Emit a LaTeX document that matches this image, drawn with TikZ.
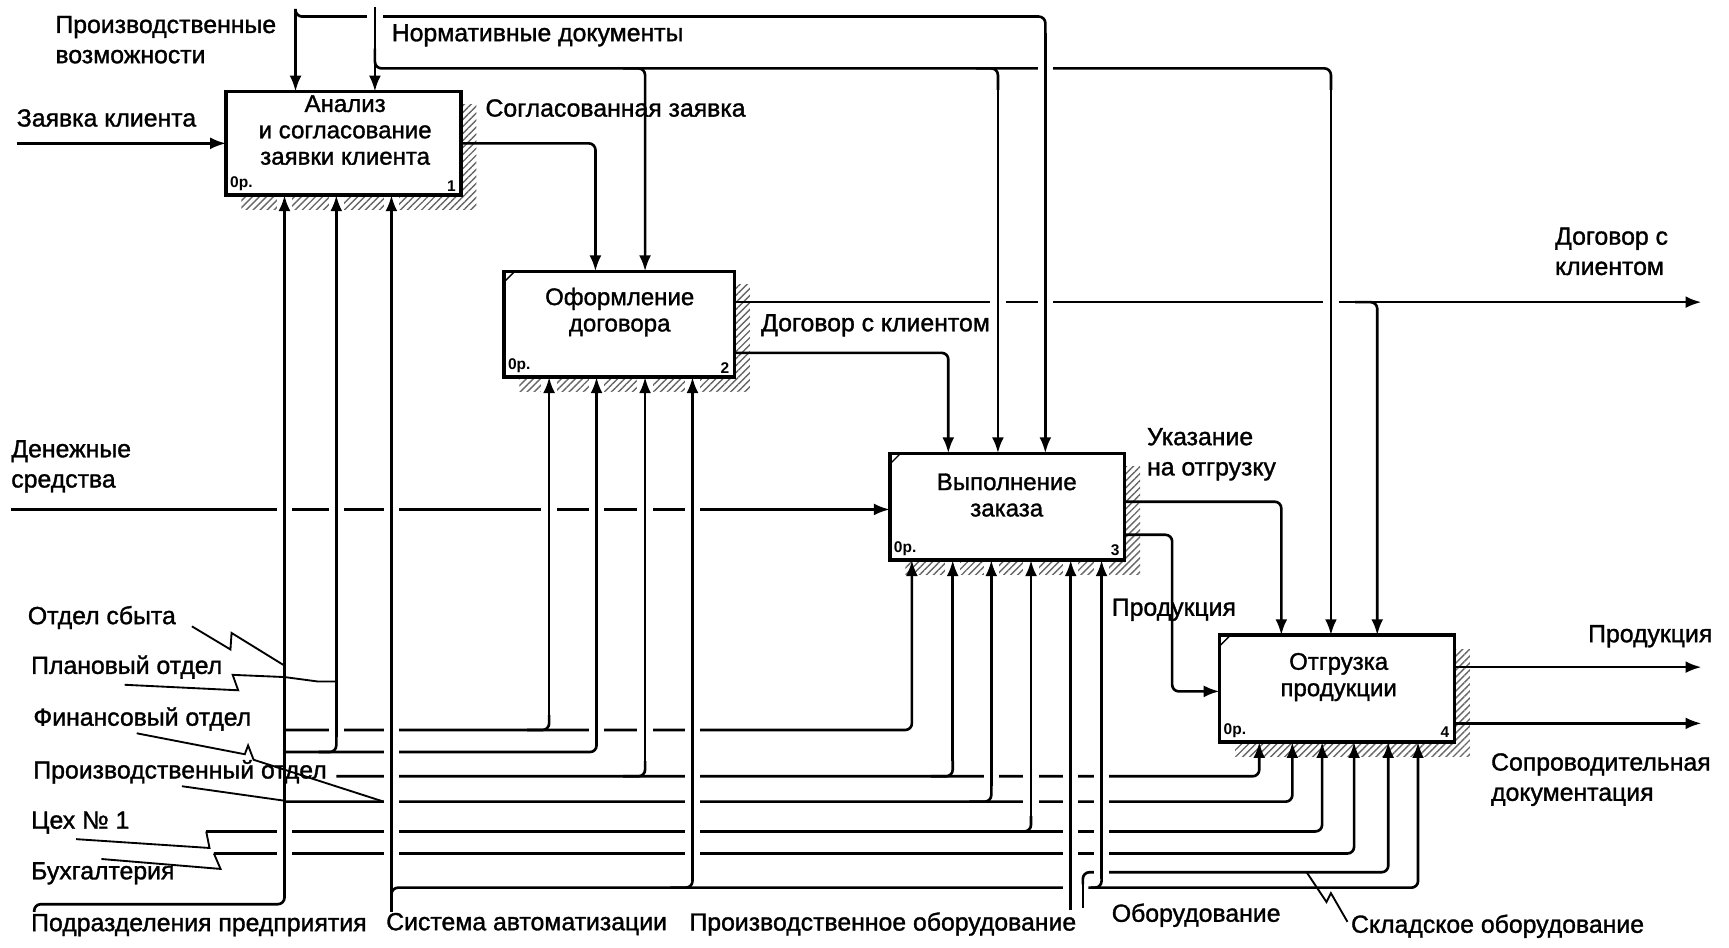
\documentclass[tikz,border=0pt]{standalone}
\usepackage{fontspec}
\setmainfont{Liberation Sans}
\newfontfamily\lblfont{Liberation Sans}[FakeBold=1.3]
\usetikzlibrary{arrows.meta,calc,patterns.meta}
\begin{document}
\begin{tikzpicture}[x=0.25mm,y=-0.25mm,
  ln/.style={line width=1.7pt, rounded corners=1.5mm},
  arr/.style={ln, -{Latex[length=3.6mm,width=2.7mm]}},
  gap/.style={preaction={draw=white,line width=10pt,arrows=-}},
  lead/.style={line width=1.2pt},
  lbl/.style={font=\lblfont\fontsize{16}{19.5}\selectfont, inner sep=0pt, anchor=west, align=left},
  box/.style={draw, line width=2.2pt, fill=white, inner sep=0pt},
  boxtxt/.style={font=\lblfont\fontsize{15.5}{17}\selectfont, align=center, inner sep=0pt},
  tinytxt/.style={font=\fontsize{10}{10}\selectfont\bfseries, inner sep=0pt},
  shd/.style={pattern={Lines[angle=45,distance=3.2pt,line width=0.9pt]}, pattern color=black!60},
  tick/.style={line width=0.9pt}
]
\useasboundingbox (0,0) rectangle (1568,859);

% shadows
\fill[shd] (219,95) rectangle (432,190);
\fill[shd] (471,258) rectangle (680,355);
\fill[shd] (821,423) rectangle (1034,521);
\fill[shd] (1120,589) rectangle (1333,686);

% ---- upper connectors
\draw[arr] (666,274) -- (1543,274);
\draw[arr] (10,462) -- (807,462);
\draw[arr] (15,130) -- (205,130);
\draw[arr] (418,130) -- (540,130) -- (540,246);
\draw[arr] (666,320) -- (860,320) -- (860,411);
\draw[arr] (1020,455) -- (1162,455) -- (1162,576);
\draw[arr] (1020,485) -- (1063,485) -- (1063,627) -- (1106,627);
\draw[arr] (1319,605) -- (1543,605);
\draw[arr] (1319,656) -- (1543,656);
\draw[arr] (1229,274) -- (1249,274) -- (1249,576);
% normative documents
\draw[ln] (340,44) -- (340,62) -- (1207,62) -- (1207,82);
\draw[arr,gap] (1207,82) -- (1207,576);
\draw[arr] (565,62) -- (585,62) -- (585,246);
\draw[ln] (885,62) -- (905,62) -- (905,82);
\draw[arr,gap] (905,82) -- (905,411);
% production capabilities
\draw[ln] (268,8) -- (268,15) -- (948,15) -- (948,30);
\draw[arr,gap] (948,30) -- (948,411);
\draw[arr] (268,8) -- (268,83);
\draw[ln,gap] (340,6) -- (340,40);
\draw[arr] (340,40) -- (340,83);

% ---- mechanisms
\draw[arr] (187,754) -- (1199,754) -- (1199,673);
\draw[arr] (194,774) -- (1228,774) -- (1228,673);
\draw[arr] (305,704) -- (1142,704) -- (1142,673);
\draw[ln] (31,827) -- (31,820) -- (258,820) -- (258,795);
\draw[arr,gap] (258,795) -- (258,177);
\draw[arr] (258,662) -- (827,662) -- (827,508);
\draw[ln] (258,682) -- (541,682) -- (541,668);
\draw[arr,gap] (541,668) -- (541,342);
\draw[arr] (258,727) -- (1172,727) -- (1172,673);
\draw[ln] (289,682) -- (305,682) -- (305,668);
\draw[arr,gap] (305,668) -- (305,177);
\draw[ln] (478,662) -- (498,662) -- (498,648);
\draw[arr,gap] (498,648) -- (498,342);
\draw[ln] (565,704) -- (585,704) -- (585,690);
\draw[arr,gap] (585,690) -- (585,342);
\draw[ln] (844,704) -- (864,704) -- (864,690);
\draw[arr,gap] (864,690) -- (864,508);
\draw[ln] (879,727) -- (899,727) -- (899,713);
\draw[arr,gap] (899,713) -- (899,508);
\draw[ln] (915,754) -- (935,754) -- (935,740);
\draw[arr,gap] (935,740) -- (935,508);
\draw[arr,gap] (355,827) -- (355,177);
\draw[arr] (355,815) -- (355,805) -- (1286,805) -- (1286,673);
\draw[ln] (608,805) -- (628,805) -- (628,791);
\draw[arr,gap] (628,791) -- (628,342);
\draw[arr,gap] (971,825) -- (971,508);
\draw[ln,gap] (982,823) -- (982,802);
\draw[arr] (982,802) -- (982,791) -- (1259,791) -- (1259,673);
\draw[ln] (987,805) -- (999,805) -- (999,797);
\draw[arr,gap] (999,797) -- (999,508);

% squiggle leaders
\draw[lead] (174,568) -- (209,589) -- (210,574) -- (257,603);
\draw[lead] (113,621) -- (216,626) -- (211,612) -- (258,614) -- (288,618) -- (305,618);
\draw[lead] (124,665) -- (222,684) -- (225,676) -- (230,689) -- (348,727);
\draw[lead] (165,713) -- (257,726);
\draw[lead] (69,761) -- (190,769) -- (187,754);
\draw[lead] (92,779) -- (200,788) -- (194,774);
\draw[lead] (1185,791) -- (1203,818) -- (1207,810) -- (1222,836);

% ---- boxes
\node[box, minimum width=53.25mm, minimum height=23.5mm] (b1) at (311.5,130) {};
\node[box, minimum width=52.25mm, minimum height=24mm] (b2) at (561.5,294) {};
\node[box, minimum width=53.25mm, minimum height=24.25mm] (b3) at (913.5,459.5) {};
\node[box, minimum width=53.25mm, minimum height=24.25mm] (b4) at (1212.5,624.5) {};
\draw[tick] ($(b2.north west)+(2,11)$) -- ($(b2.north west)+(11,2)$);
\draw[tick] ($(b3.north west)+(2,11)$) -- ($(b3.north west)+(11,2)$);
\draw[tick] ($(b4.north west)+(2,11)$) -- ($(b4.north west)+(11,2)$);

\node[boxtxt] (t1) at (313,118) {Анализ\\и согласование\\заявки клиента};
\node[boxtxt] (t2) at (562,283) {Оформление\\договора};
\node[boxtxt] (t3) at (913,449) {Выполнение\\заказа};
\node[boxtxt] (t4) at (1214,614) {Отгрузка\\продукции};

\node[tinytxt, anchor=south west] (c1) at ($(b1.south west)+(5,-5)$) {0р.};
\node[tinytxt, anchor=south west] (c2) at ($(b2.south west)+(5,-5)$) {0р.};
\node[tinytxt, anchor=south west] (c3) at ($(b3.south west)+(5,-5)$) {0р.};
\node[tinytxt, anchor=south west] (c4) at ($(b4.south west)+(5,-5)$) {0р.};
\node[tinytxt, anchor=south east] (n1) at ($(b1.south east)+(-6,-5)$) {1};
\node[tinytxt, anchor=south east] (n2) at ($(b2.south east)+(-6,-5)$) {2};
\node[tinytxt, anchor=south east] (n3) at ($(b3.south east)+(-6,-5)$) {3};
\node[tinytxt, anchor=south east] (n4) at ($(b4.south east)+(-6,-5)$) {4};

% ---- labels
\node[lbl] (l1) at (50,36) {Производственные\\возможности};
\node[lbl] (l2) at (355,32) {Нормативные документы};
\node[lbl] (l3) at (15,107) {Заявка клиента};
\node[lbl] (l4) at (440,98) {Согласованная заявка};
\node[lbl] (l5) at (690,295) {Договор с клиентом};
\node[lbl] (l6) at (1410,228) {Договор с\\клиентом};
\node[lbl] (l7) at (10,423) {Денежные\\средства};
\node[lbl] (l8) at (1040,412) {Указание\\на отгрузку};
\node[lbl] (l9) at (1008,553) {Продукция};
\node[lbl] (l10) at (1440,577) {Продукция};
\node[lbl] (l11) at (1352,707) {Сопроводительная\\документация};
\node[lbl] (l12) at (25,560) {Отдел сбыта};
\node[lbl] (l13) at (28,605) {Плановый отдел};
\node[lbl] (l14) at (30,652) {Финансовый отдел};
\node[lbl] (l15) at (30,700) {Производственный отдел};
\node[lbl] (l16) at (28,746) {Цех №~1};
\node[lbl] (l17) at (28,792) {Бухгалтерия};
\node[lbl] (l18) at (28,839) {Подразделения предприятия};
\node[lbl] (l19) at (350,838) {Система автоматизации};
\node[lbl] (l20) at (625,838) {Производственное оборудование};
\node[lbl] (l21) at (1008,830) {Оборудование};
\node[lbl] (l22) at (1225,840) {Складское оборудование};
\end{tikzpicture}
\end{document}
